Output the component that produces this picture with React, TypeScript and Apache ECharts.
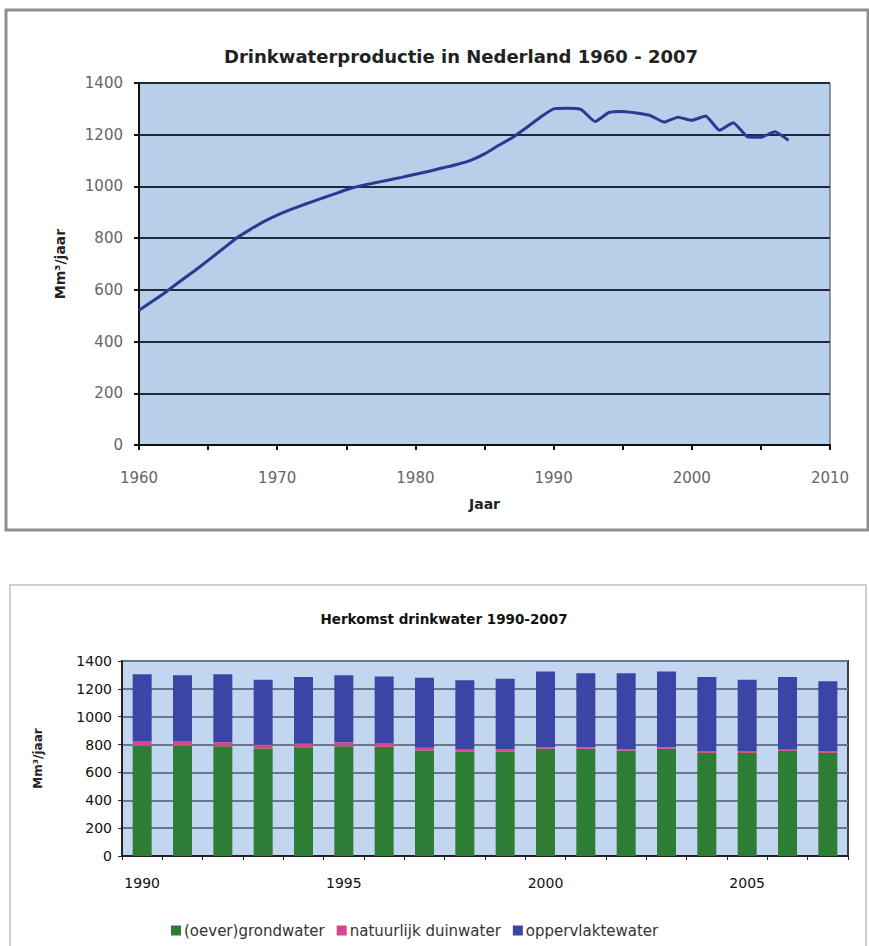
import React, { useEffect, useRef } from "react";
import * as echarts from "echarts";

// ---- Top chart: Drinkwaterproductie 1960 - 2007 (Mm3/jaar)
const prodYears = [
  1960, 1961, 1962, 1963, 1964, 1965, 1966, 1967, 1968, 1969,
  1970, 1971, 1972, 1973, 1974, 1975, 1976, 1977, 1978, 1979,
  1980, 1981, 1982, 1983, 1984, 1985, 1986, 1987, 1988, 1989,
  1990, 1991, 1992, 1993, 1994, 1995, 1996, 1997, 1998, 1999,
  2000, 2001, 2002, 2003, 2004, 2005, 2006, 2007,
];
const prodValues = [
  521, 557, 594, 634, 673, 714, 756, 798, 832, 863,
  889, 911, 931, 950, 968, 987, 1002, 1013, 1024, 1035,
  1047, 1059, 1072, 1085, 1101, 1126, 1158, 1188, 1226, 1266,
  1300, 1302, 1297, 1251, 1286, 1290, 1284, 1274, 1249, 1268,
  1256, 1272, 1217, 1246, 1193, 1190, 1211, 1178,
];

// ---- Bottom chart: Herkomst drinkwater 1990-2007
const herkomstYears = [
  "1990", "1991", "1992", "1993", "1994", "1995", "1996", "1997", "1998",
  "1999", "2000", "2001", "2002", "2003", "2004", "2005", "2006", "2007",
];
const grondwater = [790, 790, 788, 772, 780, 788, 784, 758, 750, 750, 770, 770, 756, 770, 740, 740, 755, 740];
const duinwater = [32, 32, 28, 26, 26, 28, 24, 20, 18, 16, 12, 12, 10, 10, 10, 10, 10, 10];
const oppervlaktewater = [483, 476, 489, 467, 480, 482, 480, 502, 494, 506, 542, 530, 546, 545, 536, 515, 521, 504];

const FONT = "DejaVu Sans";
const plain = (v: number) => String(v);

export default function App() {
  const ref = useRef<HTMLDivElement>(null);

  useEffect(() => {
    document.body.style.margin = "0";
    if (!ref.current) return;
    const chart = echarts.init(ref.current, undefined, { renderer: "svg" });

    const lineData = prodYears.map((y, i) => [y, prodValues[i]]);

    chart.setOption({
      animation: false,
      backgroundColor: "#ffffff",
      textStyle: { fontFamily: FONT },
      graphic: [
        {
          type: "rect",
          shape: { x: 6, y: 10, width: 862, height: 520 },
          style: { fill: "none", stroke: "#8f8f8f", lineWidth: 3 },
          silent: true,
        },
        {
          type: "rect",
          shape: { x: 10, y: 585, width: 856, height: 380 },
          style: { fill: "none", stroke: "#cfcfcf", lineWidth: 2 },
          silent: true,
        },
      ],
      title: [
        {
          text: "Drinkwaterproductie in Nederland 1960 - 2007",
          left: 456,
          top: 42,
          textAlign: "center",
          textStyle: { fontFamily: FONT, fontSize: 18, fontWeight: "bold", color: "#222" },
        },
        {
          text: "Herkomst drinkwater 1990-2007",
          left: 439,
          top: 607,
          textAlign: "center",
          textStyle: { fontFamily: FONT, fontSize: 13.5, fontWeight: "bold", color: "#111" },
        },
      ],
      legend: {
        data: ["(oever)grondwater", "natuurlijk duinwater", "oppervlaktewater"],
        left: 166,
        top: 918,
        icon: "rect",
        itemWidth: 10,
        itemHeight: 10,
        itemGap: 12,
        textStyle: { fontFamily: FONT, fontSize: 15, color: "#333", padding: [0, 0, 0, -2] },
      },
      grid: [
        {
          left: 139,
          top: 83,
          width: 691,
          height: 362,
          show: true,
          backgroundColor: "#b7cfe9",
          borderColor: "#3a3f48",
          borderWidth: 1,
        },
        {
          left: 122,
          top: 661,
          width: 726,
          height: 195,
          show: true,
          backgroundColor: "#c2d6f0",
          borderColor: "#3a3f48",
          borderWidth: 2,
        },
      ],
      xAxis: [
        {
          gridIndex: 0,
          type: "value",
          min: 1960,
          max: 2010,
          interval: 10,
          axisLine: { show: true, onZero: false, lineStyle: { color: "#111", width: 2 } },
          axisTick: { show: true, length: 5, lineStyle: { color: "#111", width: 2 } },
          minorTick: { show: true, splitNumber: 2, length: 5, lineStyle: { color: "#111", width: 2 } },
          splitLine: { show: false },
          axisLabel: { margin: 25, color: "#666", fontSize: 15, fontFamily: FONT, formatter: plain },
          name: "Jaar",
          nameLocation: "middle",
          nameGap: 52,
          nameTextStyle: { fontFamily: FONT, fontWeight: "bold", fontSize: 14, color: "#222" },
        },
        {
          gridIndex: 1,
          type: "category",
          data: herkomstYears,
          boundaryGap: true,
          axisLine: { show: true, lineStyle: { color: "#222", width: 2 } },
          axisTick: { show: true, interval: 0, length: 4, lineStyle: { color: "#222" } },
          axisLabel: { interval: 4, margin: 20, color: "#111", fontSize: 14, fontFamily: FONT },
          splitLine: { show: false },
        },
      ],
      yAxis: [
        {
          gridIndex: 0,
          type: "value",
          min: 0,
          max: 1400,
          interval: 200,
          axisLine: { show: true, lineStyle: { color: "#111", width: 2 } },
          axisTick: { show: true, length: 5, lineStyle: { color: "#111", width: 2 } },
          splitLine: { show: true, lineStyle: { color: "#1f2b3a", width: 2 } },
          axisLabel: { margin: 16, color: "#666", fontSize: 15, fontFamily: FONT, formatter: plain },
          name: "Mm³/jaar",
          nameLocation: "middle",
          nameGap: 72,
          nameRotate: 90,
          nameTextStyle: { fontFamily: FONT, fontWeight: "bold", fontSize: 14, color: "#222" },
        },
        {
          gridIndex: 1,
          type: "value",
          min: 0,
          max: 1400,
          interval: 200,
          axisLine: { show: true, lineStyle: { color: "#222", width: 2 } },
          axisTick: { show: true, length: 4, lineStyle: { color: "#222" } },
          splitLine: { show: true, lineStyle: { color: "#68778e", width: 2 } },
          axisLabel: { margin: 10, color: "#111", fontSize: 14, fontFamily: FONT, formatter: plain },
          name: "Mm³/jaar",
          nameLocation: "middle",
          nameGap: 78,
          nameRotate: 90,
          nameTextStyle: { fontFamily: FONT, fontWeight: "bold", fontSize: 12, color: "#222" },
        },
      ],
      series: [
        {
          type: "line",
          xAxisIndex: 0,
          yAxisIndex: 0,
          data: lineData,
          smooth: 0.15,
          showSymbol: false,
          lineStyle: { color: "#2b3990", width: 3 },
          z: 5,
        },
        {
          name: "(oever)grondwater",
          type: "bar",
          xAxisIndex: 1,
          yAxisIndex: 1,
          stack: "herkomst",
          data: grondwater,
          barWidth: 19,
          itemStyle: { color: "#2e7d34" },
        },
        {
          name: "natuurlijk duinwater",
          type: "bar",
          xAxisIndex: 1,
          yAxisIndex: 1,
          stack: "herkomst",
          data: duinwater,
          barWidth: 19,
          itemStyle: { color: "#d6478a" },
        },
        {
          name: "oppervlaktewater",
          type: "bar",
          xAxisIndex: 1,
          yAxisIndex: 1,
          stack: "herkomst",
          data: oppervlaktewater,
          barWidth: 19,
          itemStyle: { color: "#3b45a5" },
        },
      ],
    });

    return () => chart.dispose();
  }, []);

  return <div ref={ref} style={{ width: 869, height: 946 }} />;
}
